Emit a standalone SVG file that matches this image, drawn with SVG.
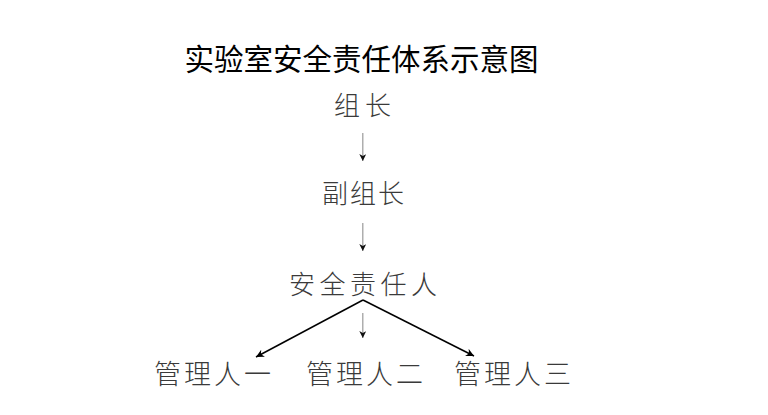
<svg xmlns="http://www.w3.org/2000/svg" width="768" height="415" viewBox="0 0 768 415">
<defs>
<style>
.title{font-family:"Noto Sans CJK SC","Noto Sans",sans-serif;font-size:29.5px;fill:#000;}
.node{font-family:"Noto Sans CJK SC","Noto Sans",sans-serif;font-size:26px;font-weight:200;fill:#3a3a3a;}
.bot{font-size:27px;letter-spacing:3px;}
.vline{stroke:#9a9a9a;stroke-width:1.2;fill:none;}
.dline{stroke:#000;stroke-width:1.5;fill:none;}
</style>
<marker id="headSmall" viewBox="0 0 10 10" refX="10" refY="5" markerWidth="7" markerHeight="7" markerUnits="userSpaceOnUse" orient="auto">
<path d="M0,0 L10,5 L0,10 L3,5 Z" fill="#111"/>
</marker>
<marker id="headBig" viewBox="0 0 10 10" refX="10" refY="5" markerWidth="9" markerHeight="8" markerUnits="userSpaceOnUse" orient="auto">
<path d="M0,0 L10,5 L0,10 L3,5 Z" fill="#000"/>
</marker>
</defs>
<rect width="768" height="415" fill="#fff"/>
<text class="title" x="361.5" y="69.5" text-anchor="middle">实验室安全责任体系示意图</text>
<g id="connectors">
<line class="vline" x1="362.8" y1="133" x2="362.8" y2="161" marker-end="url(#headSmall)"/>
<line class="vline" x1="362.8" y1="223" x2="362.8" y2="251" marker-end="url(#headSmall)"/>
<line class="vline" x1="362.8" y1="313" x2="362.8" y2="338" marker-end="url(#headSmall)"/>
<line class="dline" x1="363" y1="300" x2="256" y2="357" marker-end="url(#headBig)"/>
<line class="dline" x1="363" y1="300" x2="474" y2="356" marker-end="url(#headBig)"/>
</g>
<g id="node-zuzhang"><text class="node" x="334" y="115" style="letter-spacing:5px">组长</text></g>
<g id="node-fuzuzhang"><text class="node" x="322" y="203" style="letter-spacing:2px">副组长</text></g>
<g id="node-anquan"><text class="node" x="289" y="294" style="letter-spacing:4.5px">安全责任人</text></g>
<g id="node-guanli1"><text class="node bot" x="154" y="384">管理人一</text></g>
<g id="node-guanli2"><text class="node bot" x="306" y="384">管理人二</text></g>
<g id="node-guanli3"><text class="node bot" x="454" y="384">管理人三</text></g>
</svg>
